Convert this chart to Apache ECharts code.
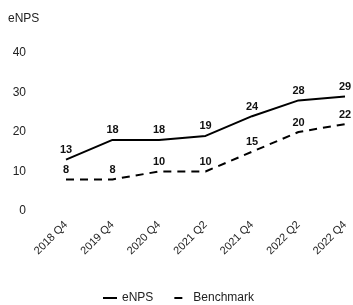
<!DOCTYPE html>
<html lang="en" style="height: 100%">
<head>
    <meta charset="utf-8">
</head>
<body style="height: 100%; margin: 0">
    <div id="container" style="width: 353px; height: 305px"></div>
    <script type="text/javascript" src="https://cdn.jsdelivr.net/npm/echarts@6/dist/echarts.min.js"></script>
    <script type="text/javascript">
        var categories = ['2018 Q4', '2019 Q4', '2020 Q4', '2021 Q2', '2021 Q4', '2022 Q2', '2022 Q4'];
        var enps = [13, 18, 18, 19, 24, 28, 29];
        var benchmark = [8, 8, 10, 10, 15, 20, 22];

        var dom = document.getElementById('container');
        var myChart = echarts.init(dom, null, { renderer: 'canvas' });

        var labelStyle = {
            show: true,
            position: 'top',
            distance: 4,
            color: '#111',
            fontWeight: 'bold',
            fontSize: 11,
            fontFamily: 'Liberation Sans'
        };

        var option = {
            animation: false,
            textStyle: { fontFamily: 'Liberation Sans' },
            grid: { left: 66, right: 8, top: 53, bottom: 94 },
            legend: {
                left: 97,
                top: 287,
                itemWidth: 14,
                itemHeight: 10,
                itemGap: 20,
                itemStyle: { opacity: 0 },
                textStyle: { color: '#222', fontSize: 12 },
                data: ['eNPS', 'Benchmark']
            },
            xAxis: {
                type: 'category',
                data: categories,
                boundaryGap: false,
                axisLine: { show: false },
                axisTick: { show: false },
                axisLabel: { rotate: 45, margin: 12, color: '#222', fontSize: 11 }
            },
            yAxis: {
                type: 'value',
                min: 0,
                max: 40,
                interval: 10,
                name: 'eNPS',
                nameLocation: 'end',
                nameGap: 28,
                nameTextStyle: { color: '#222', fontSize: 12, align: 'left', padding: [0, 0, 0, -58] },
                splitLine: { show: false },
                axisLine: { show: false },
                axisTick: { show: false },
                axisLabel: { margin: 40, color: '#222', fontSize: 12 }
            },
            series: [
                {
                    name: 'eNPS',
                    type: 'line',
                    data: enps,
                    symbol: 'circle',
                    symbolSize: 0,
                    lineStyle: { color: '#000', width: 2 },
                    itemStyle: { color: '#000' },
                    label: labelStyle
                },
                {
                    name: 'Benchmark',
                    type: 'line',
                    data: benchmark,
                    symbol: 'circle',
                    symbolSize: 0,
                    lineStyle: { color: '#000', width: 2, type: [8, 6] },
                    itemStyle: { color: '#000' },
                    label: labelStyle
                }
            ]
        };

        myChart.setOption(option);
        window.addEventListener('resize', myChart.resize);
    </script>
</body>
</html>
